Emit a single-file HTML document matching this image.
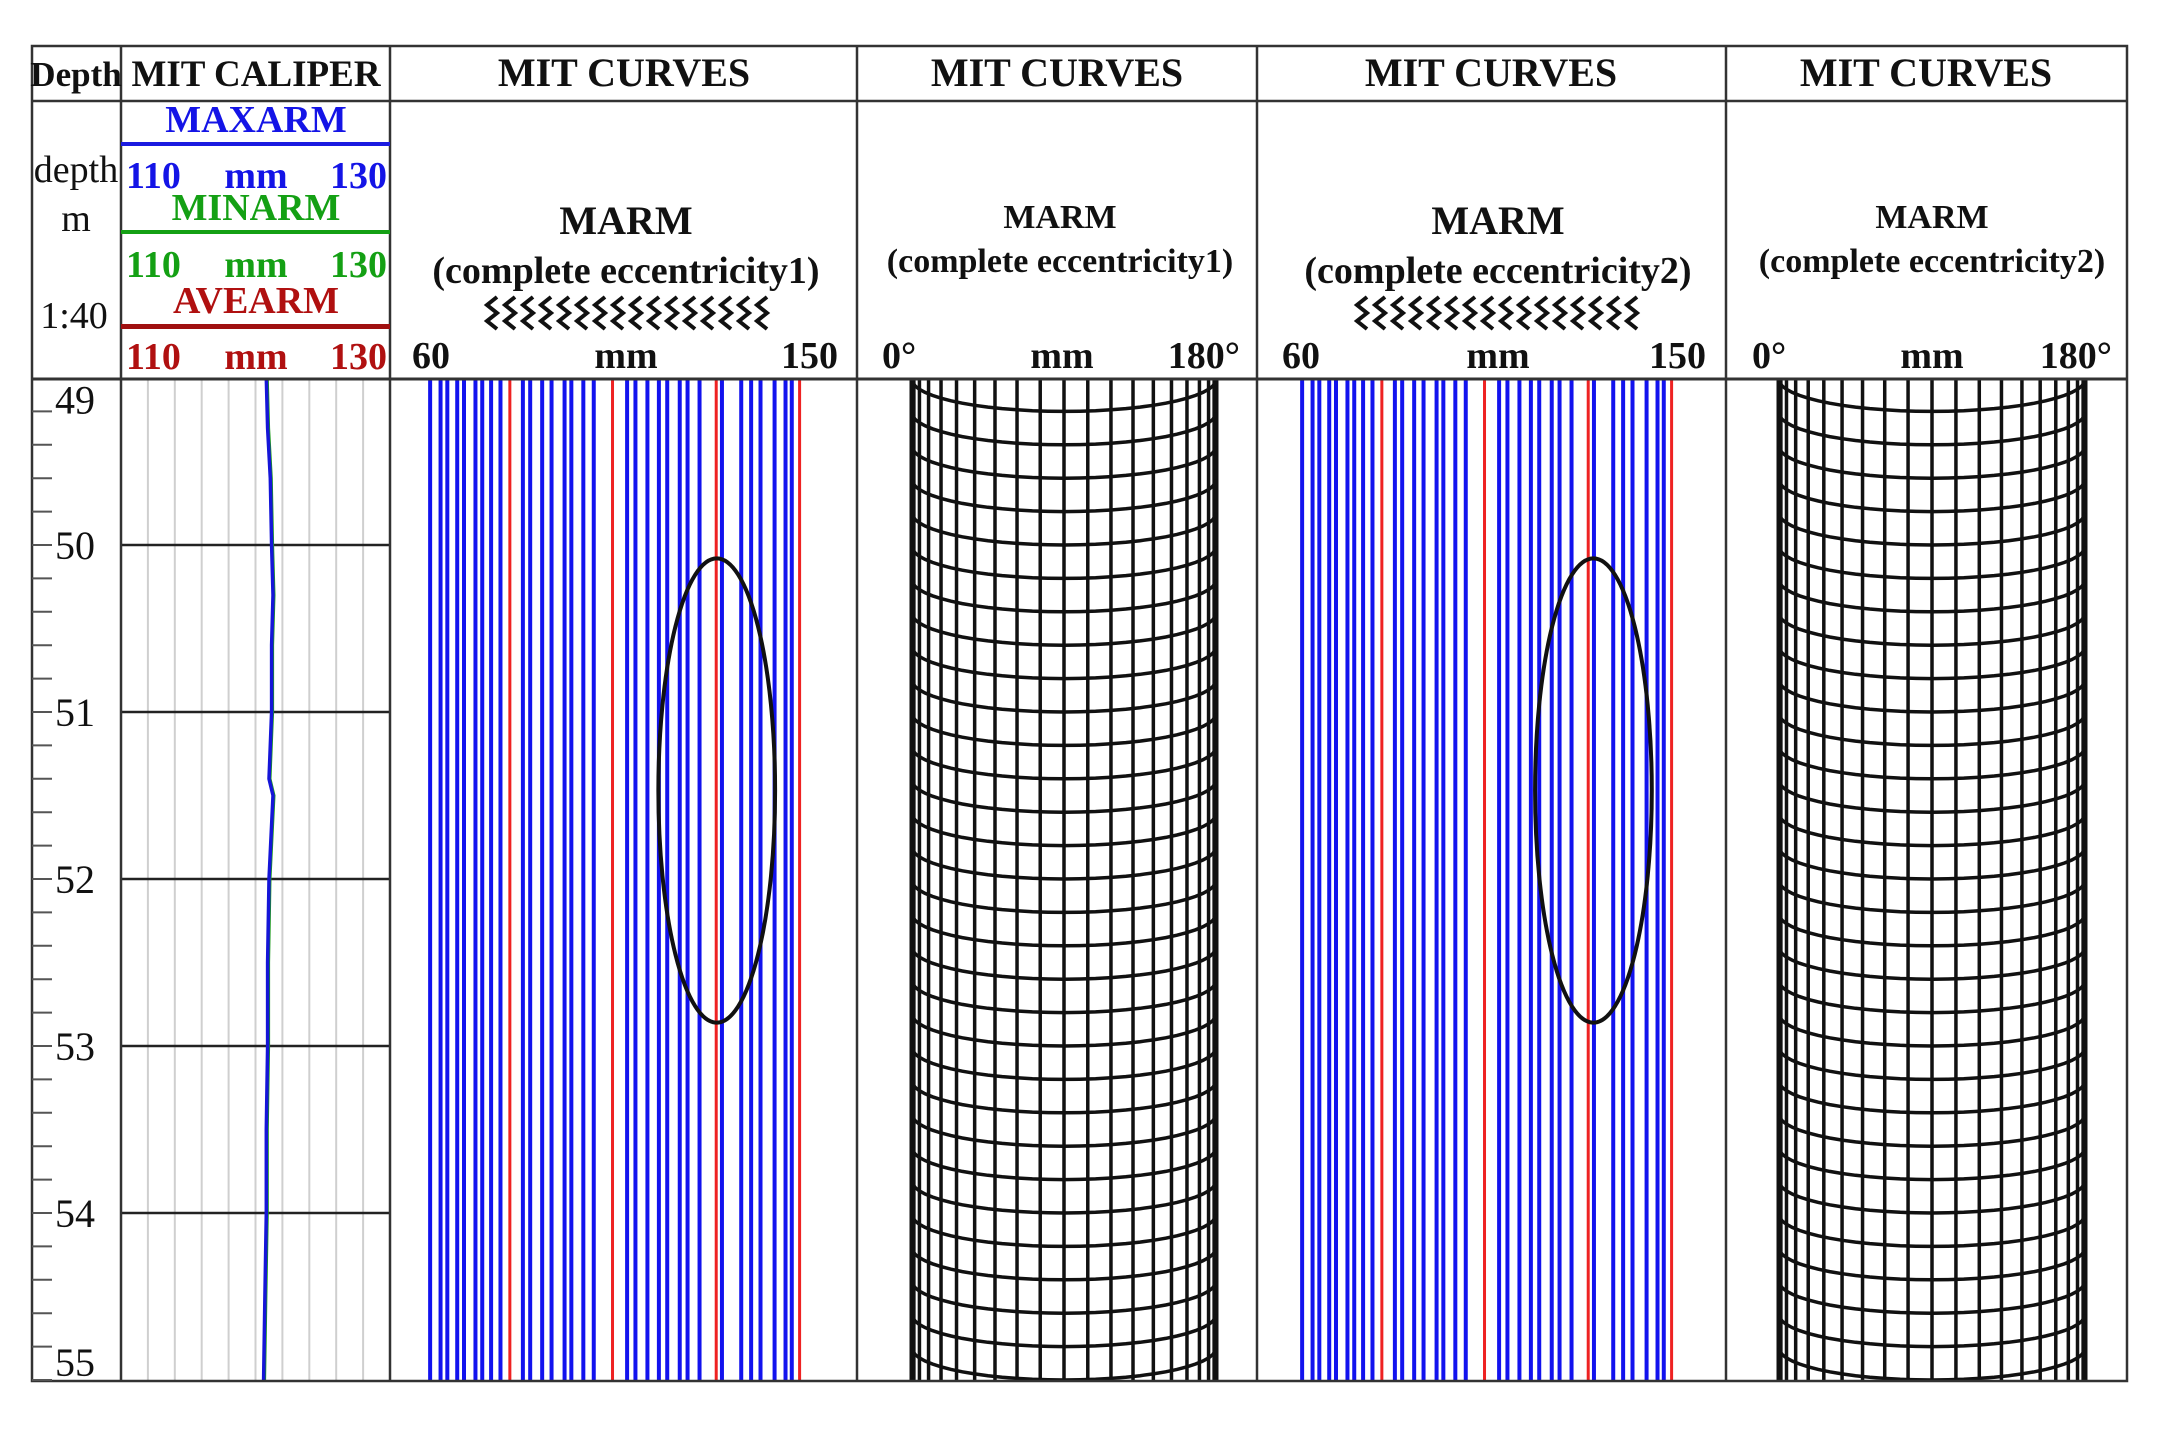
<!DOCTYPE html>
<html><head><meta charset="utf-8"><title>MIT caliper log</title>
<style>
html,body{margin:0;padding:0;background:#fff;}
svg{display:block;}
text{font-family:"Liberation Serif",serif;}
.b{font-weight:bold;}
</style></head>
<body>
<svg id="log" width="2166" height="1435" viewBox="0 0 2166 1435" xmlns="http://www.w3.org/2000/svg">
  <g id="grid-layer"></g>
  <g id="marks"></g>
  <g id="frame" stroke="#333" stroke-width="2.5" fill="none">
    <rect x="32" y="46" width="2095" height="1335"/>
    <line x1="32" y1="101" x2="2127" y2="101"/>
    <line x1="32" y1="379" x2="2127" y2="379" stroke-width="3"/>
    <line x1="121" y1="46" x2="121" y2="1381"/>
    <line x1="390" y1="46" x2="390" y2="1381"/>
    <line x1="857" y1="46" x2="857" y2="1381"/>
    <line x1="1257" y1="46" x2="1257" y2="1381"/>
    <line x1="1726" y1="46" x2="1726" y2="1381"/>
  </g>
  <g id="headers" fill="#111">
    <text class="b" x="76" y="86" font-size="35" text-anchor="middle">Depth</text>
    <text class="b" x="256" y="86" font-size="37" text-anchor="middle">MIT CALIPER</text>
    <text class="b" x="624" y="86" font-size="40" text-anchor="middle">MIT CURVES</text>
    <text class="b" x="1057" y="86" font-size="40" text-anchor="middle">MIT CURVES</text>
    <text class="b" x="1491" y="86" font-size="40" text-anchor="middle">MIT CURVES</text>
    <text class="b" x="1926" y="86" font-size="40" text-anchor="middle">MIT CURVES</text>

    <text x="76" y="182" font-size="38" text-anchor="middle">depth</text>
    <text x="76" y="231" font-size="38" text-anchor="middle">m</text>
    <text x="74" y="328" font-size="38" text-anchor="middle">1:40</text>

    <text class="b" x="256" y="132" font-size="38" fill="#1414e6" text-anchor="middle">MAXARM</text>
    <rect x="121" y="142" width="269" height="4" fill="#1a1ae0"/>
    <text class="b" x="126" y="188" font-size="38" fill="#1414e6">110</text>
    <text class="b" x="256" y="188" font-size="38" fill="#1414e6" text-anchor="middle">mm</text>
    <text class="b" x="387" y="188" font-size="38" fill="#1414e6" text-anchor="end">130</text>

    <text class="b" x="256" y="220" font-size="38" fill="#14a014" text-anchor="middle">MINARM</text>
    <rect x="121" y="230" width="269" height="4" fill="#14a014"/>
    <text class="b" x="126" y="277" font-size="38" fill="#14a014">110</text>
    <text class="b" x="256" y="277" font-size="38" fill="#14a014" text-anchor="middle">mm</text>
    <text class="b" x="387" y="277" font-size="38" fill="#14a014" text-anchor="end">130</text>

    <text class="b" x="256" y="313" font-size="38" fill="#b01010" text-anchor="middle">AVEARM</text>
    <rect x="121" y="324" width="269" height="5" fill="#a01010"/>
    <text class="b" x="126" y="369" font-size="38" fill="#b01010">110</text>
    <text class="b" x="256" y="369" font-size="38" fill="#b01010" text-anchor="middle">mm</text>
    <text class="b" x="387" y="369" font-size="38" fill="#b01010" text-anchor="end">130</text>

    <!-- track 1 -->
    <text class="b" x="626" y="234" font-size="40" text-anchor="middle">MARM</text>
    <text class="b" x="626" y="283" font-size="38" text-anchor="middle">(complete eccentricity1)</text>
    <g id="zig1"></g>
    <text class="b" x="412" y="368" font-size="38">60</text>
    <text class="b" x="626" y="368" font-size="38" text-anchor="middle">mm</text>
    <text class="b" x="838" y="368" font-size="38" text-anchor="end">150</text>

    <!-- track 2 -->
    <text class="b" x="1060" y="228" font-size="34" text-anchor="middle">MARM</text>
    <text class="b" x="1060" y="272" font-size="34" text-anchor="middle">(complete eccentricity1)</text>
    <text class="b" x="882" y="368" font-size="38">0°</text>
    <text class="b" x="1062" y="368" font-size="38" text-anchor="middle">mm</text>
    <text class="b" x="1240" y="368" font-size="38" text-anchor="end">180°</text>

    <!-- track 3 -->
    <text class="b" x="1498" y="234" font-size="40" text-anchor="middle">MARM</text>
    <text class="b" x="1498" y="283" font-size="38" text-anchor="middle">(complete eccentricity2)</text>
    <g id="zig3"></g>
    <text class="b" x="1282" y="368" font-size="38">60</text>
    <text class="b" x="1498" y="368" font-size="38" text-anchor="middle">mm</text>
    <text class="b" x="1706" y="368" font-size="38" text-anchor="end">150</text>

    <!-- track 4 -->
    <text class="b" x="1932" y="228" font-size="34" text-anchor="middle">MARM</text>
    <text class="b" x="1932" y="272" font-size="34" text-anchor="middle">(complete eccentricity2)</text>
    <text class="b" x="1752" y="368" font-size="38">0°</text>
    <text class="b" x="1932" y="368" font-size="38" text-anchor="middle">mm</text>
    <text class="b" x="2112" y="368" font-size="38" text-anchor="end">180°</text>
  </g>
  <g id="depth-axis"></g>
</svg>
<script>
// ---- data ----
const depthLabels = [49, 50, 51, 52, 53, 54, 55];
const caliperDepths = [49.0, 49.3, 49.6, 50.0, 50.3, 50.6, 51.0, 51.4, 51.5, 52.0, 52.5, 53.0, 53.5, 54.0, 54.5, 55.0];
const caliperValues = [120.8, 120.9, 121.1, 121.2, 121.3, 121.2, 121.2, 121.0, 121.3, 121.0, 120.9, 120.9, 120.8, 120.8, 120.7, 120.6];
const armValues = [67.7, 69.7, 71.0, 72.9, 74.2, 76.4, 77.7, 79.4, 81.2, 83.0,
                   85.5, 86.9, 89.2, 91.0, 93.5, 94.8, 97.1, 99.1, 102.7,
                   105.5, 107.1, 109.4, 111.6, 113.2, 115.6, 117.1, 119.4, 122.6,
                   123.7, 127.4, 129.3, 131.1, 133.8, 135.9, 137.1, 138.6];
const armIsRed = [0,0,0,0,0,0,0,0,0,1, 0,0,0,0,0,0,0,0,1, 0,0,0,0,0,0,0,0,1, 0,0,0,0,0,0,0,1];
const anomalyCenters = [122.7, 123.6];
const anomalyDepth = 51.47;
const anomalyRadius = [11.2, 1.39];
const cylinderAngles = [0,9,18,27,36,45,54,63,72,81,90,99,108,117,126,135,144,153,162,171,180];
const ringDepths = [49.0,49.2,49.4,49.6,49.8,50.0,50.2,50.4,50.6,50.8,51.0,51.2,51.4,51.6,51.8,52.0,52.2,52.4,52.6,52.8,53.0,53.2,53.4,53.6,53.8,54.0,54.2,54.4,54.6,54.8,55.0,55.2];

// ---- axes ----
const NS = "http://www.w3.org/2000/svg";
const TOP = 379, BOT = 1381;
function yOf(d){ return 545 + (d - 50) * 167; }
function calX(v){ return 121 + (v - 110) / 20 * 269; }
function armX(v, x0){ return x0 + (v - 60) / 90 * 469; }
function mk(tag, attrs, parent){
  const e = document.createElementNS(NS, tag);
  for (const k in attrs) e.setAttribute(k, attrs[k]);
  parent.appendChild(e);
  return e;
}
const grid = document.getElementById('grid-layer');
const marks = document.getElementById('marks');
const axis = document.getElementById('depth-axis');

for (let i = 1; i < 10; i++){
  const x = 121 + i * 269 / 10;
  const l = mk('line', {x1:x, y1:TOP, x2:x, y2:BOT, stroke:'#cfcfcf', 'stroke-width':2}, grid);
  
  
}
depthLabels.forEach(d => {
  if (d > 49 && d < 55){
    const l = mk('line', {x1:121, y1:yOf(d), x2:390, y2:yOf(d), stroke:'#222', 'stroke-width':2.5}, grid);
    
    
  }
});

for (let k = 1; k <= 30; k++){
  const d = 49 + k * 0.2;
  const y = yOf(d);
  const t = mk('line', {x1:32, y1:y, x2:52, y2:y, stroke:'#555', 'stroke-width':2}, axis);
  
  
}
depthLabels.forEach(d => {
  let y = yOf(d) + 14;
  if (d === 49) y = yOf(49.2) + 2;
  if (d === 55) y = yOf(55) - 4;
  const t = mk('text', {x:55, y:y, 'font-size':40, fill:'#111'}, axis);
  t.textContent = String(d);
  
  
});

function calPath(off){
  return caliperDepths.map((d, i) => (i ? 'L' : 'M') + (calX(caliperValues[i]) + off).toFixed(1) + ',' + yOf(d).toFixed(1)).join(' ');
}
const cg = mk('path', {d:calPath(1), fill:'none', stroke:'#1a9a1a', 'stroke-width':3}, marks);


const cb = mk('path', {d:calPath(0), fill:'none', stroke:'#1515d8', 'stroke-width':3.5}, marks);



[390, 1262].forEach((x0, ti) => {
  armValues.forEach((v, i) => {
    const x = armX(v, x0);
    const red = armIsRed[i] === 1;
    const l = mk('line', {x1:x, y1:TOP, x2:x, y2:BOT, stroke: red ? '#ee2222' : '#1212ee', 'stroke-width': red ? 3 : 4}, marks);
    
    
  });
  const cx = armX(anomalyCenters[ti], x0), cy = yOf(anomalyDepth);
  const rx = anomalyRadius[0] / 90 * 469, ry = anomalyRadius[1] * 167;
  const e = mk('ellipse', {cx:cx, cy:cy, rx:rx, ry:ry, fill:'none', stroke:'#111', 'stroke-width':4}, marks);
  
  
});

const clip = mk('clipPath', {id:'trackclip'}, mk('defs', {}, marks));
mk('rect', {x:0, y:TOP, width:2166, height:BOT - TOP}, clip);
[[1064, 152], [1932, 153]].forEach(([cx, R]) => {
  const g = mk('g', {'clip-path':'url(#trackclip)', stroke:'#111', fill:'none', 'stroke-width':3.5}, marks);
  
  
  cylinderAngles.forEach(a => {
    const x = cx - R * Math.cos(a * Math.PI / 180);
    const l = mk('line', {x1:x, y1:TOP, x2:x, y2:BOT, 'stroke-width': (a === 0 || a === 180) ? 5 : 3.5}, g);
    
    
  });
  ringDepths.forEach(d => {
    const yc = yOf(d), sag = 32;
    let p = '';
    for (let a = 0; a <= 180; a += 6){
      const r = a * Math.PI / 180;
      p += (a ? 'L' : 'M') + (cx - R * Math.cos(r)).toFixed(1) + ',' + (yc - sag + sag * Math.sin(r)).toFixed(1);
    }
    const pl = mk('path', {d:p}, g);
    
    
  });
});

[['zig1', 484], ['zig3', 1354]].forEach(([id, x0]) => {
  const g = document.getElementById(id);
  for (let i = 0; i < 16; i++){
    const x = x0 + i * 18;
    mk('path', {d:`M${x+13},297 l-10,8 l10,8 l-10,8 l10,8`, fill:'none', stroke:'#111', 'stroke-width':4}, g);
  }
});
</script>
</body></html>
